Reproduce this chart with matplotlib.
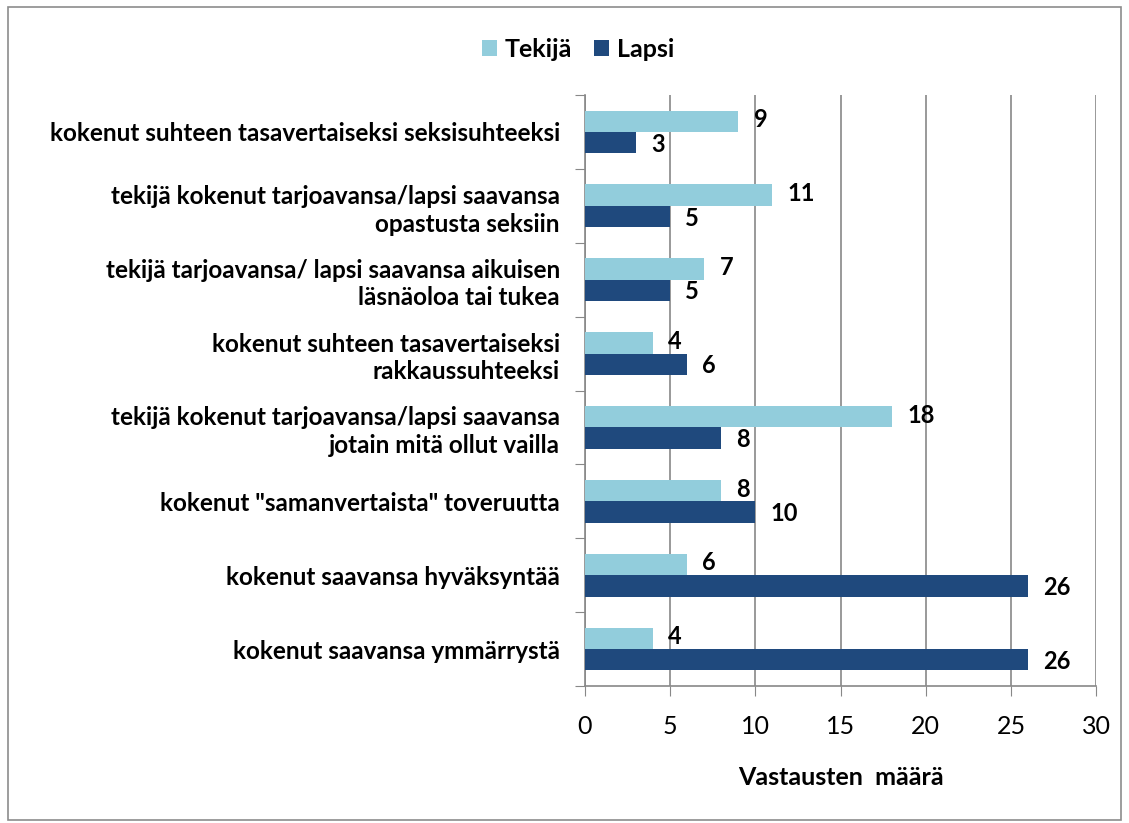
import matplotlib.pyplot as plt
from matplotlib.patches import Rectangle
import numpy as np

categories = [
    'kokenut suhteen tasavertaiseksi seksisuhteeksi',
    'tekijä kokenut tarjoavansa/lapsi saavansa\nopastusta seksiin',
    'tekijä tarjoavansa/ lapsi saavansa aikuisen\nläsnäoloa tai tukea',
    'kokenut suhteen tasavertaiseksi\nrakkaussuhteeksi',
    'tekijä kokenut tarjoavansa/lapsi saavansa\njotain mitä ollut vailla',
    'kokenut "samanvertaista" toveruutta',
    'kokenut saavansa hyväksyntää',
    'kokenut saavansa ymmärrystä',
]
tekija = [9, 11, 7, 4, 18, 8, 6, 4]
lapsi = [3, 5, 5, 6, 8, 10, 26, 26]
xticks = [0, 5, 10, 15, 20, 25, 30]

light = '#92CDDC'
dark = '#1F497D'
plt.rcParams['font.family'] = ['Lato', 'DejaVu Sans']

fig = plt.figure(figsize=(11.29, 8.23), dpi=100)
ax = fig.add_axes([0.518, 0.1665, 0.453, 0.718])

# Outer frame around the chart
fig.patches.append(Rectangle((0.007, 0.004), 0.986, 0.988, transform=fig.transFigure,
                             fill=False, edgecolor='#8c8c8c', linewidth=1.2))

y = np.arange(len(categories))
h = 0.29
ax.barh(y - h / 2, tekija, height=h, color=light, label='Tekijä', zorder=3)
ax.barh(y + h / 2, lapsi, height=h, color=dark, label='Lapsi', zorder=3)

for i in range(len(categories)):
    ax.text(tekija[i] + 0.9, y[i] - h / 2 - 0.02, str(tekija[i]), va='center', ha='left',
            fontsize=17, fontweight='bold')
    ax.text(lapsi[i] + 0.9, y[i] + h / 2 + 0.02, str(lapsi[i]), va='center', ha='left',
            fontsize=17, fontweight='bold')

ax.set_ylim(len(categories) - 0.5, -0.5)
ax.set_xlim(0, 30)
ax.set_xticks(xticks)
ax.set_yticks(np.arange(len(categories) + 1) - 0.5)
ax.set_yticklabels([])
ax.set_yticks(y, minor=True)
ax.set_yticklabels(categories, minor=True, fontsize=17.5, fontweight='bold', ha='right',
                   linespacing=1.25)
ax.tick_params(axis='y', which='minor', length=0, pad=18)
ax.tick_params(axis='y', which='major', length=7, color='#888888')
ax.tick_params(axis='x', length=7, color='#888888', labelsize=18, pad=14)
ax.grid(axis='x', color='#888888', linewidth=1.2, zorder=0)
for s in ['top', 'right']:
    ax.spines[s].set_visible(False)
for s in ['left', 'bottom']:
    ax.spines[s].set_color('#888888')
    ax.spines[s].set_linewidth(1.2)

ax.set_xlabel('Vastausten  määrä', fontsize=18, fontweight='bold', labelpad=20)
fig.legend(loc='center', bbox_to_anchor=(0.512, 0.94), ncol=2, frameon=False,
           prop={'size': 18, 'weight': 'bold'}, handlelength=0.6, handleheight=0.6,
           handletextpad=0.3, columnspacing=0.9)

fig.savefig('out.png', dpi=100)
